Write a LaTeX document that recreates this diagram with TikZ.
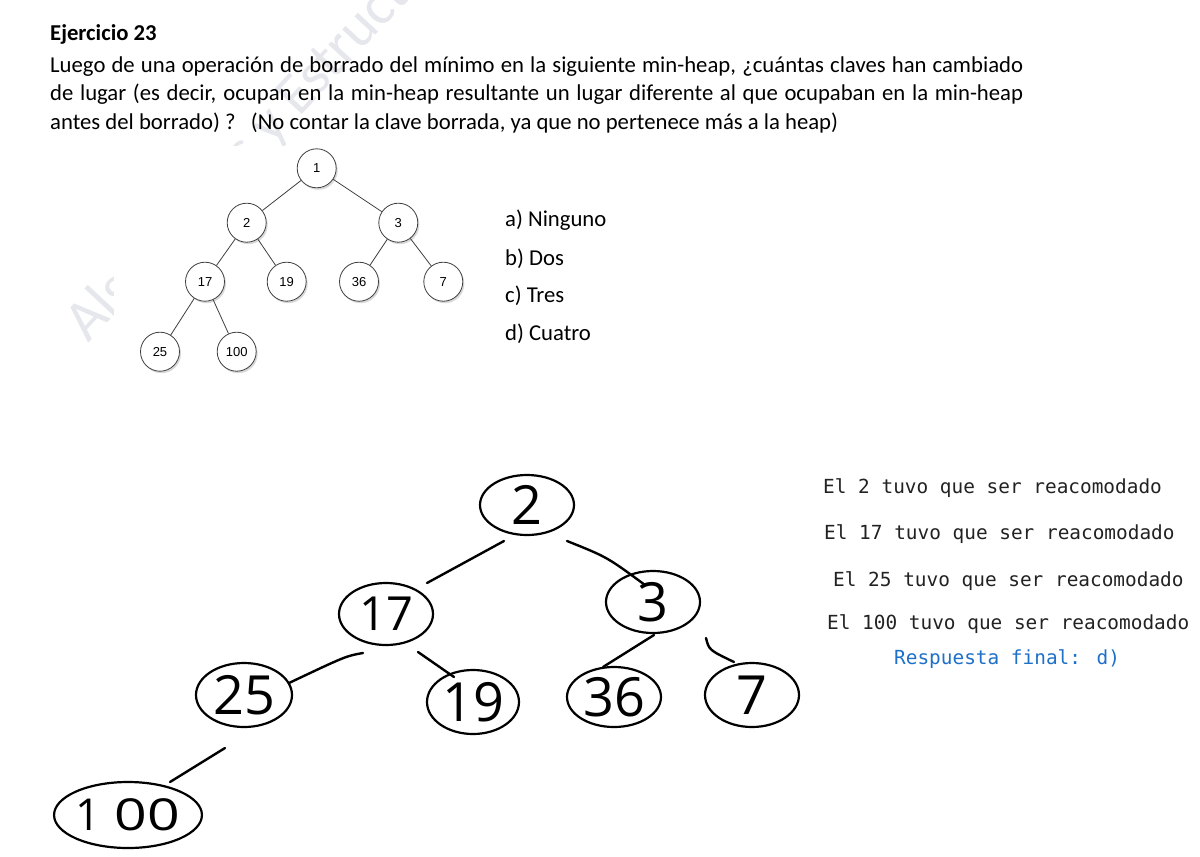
\documentclass[tikz,border=0pt]{standalone}
\usepackage{fontspec}
\setmainfont{Carlito}
\newfontfamily\monofont{DejaVu Sans Mono}
\newfontfamily\treefont{Liberation Sans}
\newfontfamily\handfont{Open Sans}
\usetikzlibrary{shapes.geometric,shadows}
\definecolor{wmgray}{RGB}{230,231,236}
\definecolor{ansblue}{RGB}{30,112,200}
\definecolor{monotext}{RGB}{34,34,34}
\begin{document}
\begin{tikzpicture}[x=1pt,y=-1pt,
  txt/.style={anchor=base west, inner sep=0pt, font=\fontsize{22.7}{27}\selectfont},
  mono/.style={anchor=base west, inner sep=0pt, text=monotext, font=\monofont\fontsize{19.4}{22}\selectfont},
  snode/.style={circle, draw=black!75, line width=0.8pt, fill=white, minimum size=39pt, inner sep=0pt,
    font=\treefont\fontsize{13}{13}\selectfont,
    drop shadow={shadow xshift=1.5pt, shadow yshift=-2pt, fill=black!30}},
  sedge/.style={draw=black!75, line width=0.8pt},
  hnode/.style={ellipse, draw=black, line width=2.2pt, inner sep=0pt, font=\handfont\fontsize{54}{54}\selectfont},
  hedge/.style={draw=black, line width=2.4pt, line cap=round},
]
\useasboundingbox[fill=white] (0,0) rectangle (1200,857);

% watermark (partly hidden by the tree picture)
\node[anchor=base west, inner sep=0pt, rotate=47, text=wmgray, font=\fontsize{58}{58}\selectfont] (wm) at (88,344) {Algoritmos y Estructuras de Datos};
\fill[white] (114,146) rectangle (470,385);

% question
\node[txt, font=\bfseries\fontsize{22.7}{27}\selectfont] (title) at (50,40.7) {Ejercicio 23};
\node[txt] (q1) at (50,72.7) {\makebox[973pt][s]{Luego de una operación de borrado del mínimo en la siguiente min-heap, ¿cuántas claves han cambiado}};
\node[txt] (q2) at (50,100.7) {\makebox[973pt][s]{de lugar (es decir, ocupan en la min-heap resultante un lugar diferente al que ocupaban en la min-heap}};
\node[txt] (q3) at (50,129.3) {antes del borrado) ?\ \ \ (No contar la clave borrada, ya que no pertenece más a la heap)};

% options
\node[txt] (oa) at (505,226.7) {a) Ninguno};
\node[txt] (ob) at (505,265) {b) Dos};
\node[txt] (oc) at (505,302.7) {c) Tres};
\node[txt] (od) at (505,340.7) {d) Cuatro};

% original min-heap
\node[snode] (s1) at (316.7,168.3) {1};
\node[snode] (s2) at (246.7,222.7) {2};
\node[snode] (s3) at (398.3,222.7) {3};
\node[snode] (s17) at (205,281.7) {17};
\node[snode] (s19) at (286.7,281.7) {19};
\node[snode] (s36) at (359,281.7) {36};
\node[snode] (s7) at (443.3,281.7) {7};
\node[snode] (s25) at (160,351.7) {25};
\node[snode] (s100) at (236.7,351.7) {100};
\draw[sedge] (s1) -- (s2);
\draw[sedge] (s1) -- (s3);
\draw[sedge] (s2) -- (s17);
\draw[sedge] (s2) -- (s19);
\draw[sedge] (s3) -- (s36);
\draw[sedge] (s3) -- (s7);
\draw[sedge] (s17) -- (s25);
\draw[sedge] (s17) -- (s100);

% handwritten resulting heap
\node[hnode, minimum width=94pt, minimum height=60pt] (h2) at (527,505) {2};
\node[hnode, minimum width=94pt, minimum height=62pt, font=\handfont\fontsize{47}{47}\selectfont] (h17) at (386,614) {17};
\node[hnode, minimum width=94pt, minimum height=62pt] (h3) at (653,602) {3};
\node[hnode, minimum width=96pt, minimum height=64pt] (h25) at (244,695) {25};
\node[hnode, minimum width=92pt, minimum height=64pt] (h19) at (473,702) {19};
\node[hnode, minimum width=94pt, minimum height=60pt] (h36) at (614,697) {36};
\node[hnode, minimum width=94pt, minimum height=64pt] (h7) at (752,695) {7};
\node[hnode, minimum width=144pt, minimum height=66pt, font=\handfont\fontsize{44}{44}\selectfont] (h100) at (128,815) {1\kern14pt\scalebox{1.3}[1]{00}};

\draw[hedge] ([shift={(-23,36)}]h2.center) -- ([shift={(41,-31)}]h17.center);
\draw[hedge] ([shift={(40,36)}]h2.center) .. controls ([shift={(80,52)}]h2.center) .. ([shift={(-8,-17)}]h3.center);
\draw[hedge] ([shift={(-23,39)}]h17.center) .. controls ([shift={(-40,42)}]h17.center) .. ([shift={(45,-12)}]h25.center);
\draw[hedge] ([shift={(32,38)}]h17.center) -- ([shift={(-19,-25)}]h19.center);
\draw[hedge] ([shift={(1,33)}]h3.center) -- ([shift={(-11,-30)}]h36.center);
\draw[hedge] ([shift={(53,36)}]h3.center) .. controls ([shift={(56,48)}]h3.center) .. ([shift={(-18,-33)}]h7.center);
\draw[hedge] ([shift={(-19,53)}]h25.center) -- ([shift={(42,-33)}]h100.center);

% notes
\node[mono] (m1) at (823,493) {El 2 tuvo que ser reacomodado};
\node[mono] (m2) at (824,539) {El 17 tuvo que ser reacomodado};
\node[mono] (m3) at (833,586) {El 25 tuvo que ser reacomodado};
\node[mono] (m4) at (827,629) {El 100 tuvo que ser reacomodado};
\node[mono, text=ansblue] (m5) at (894,664) {Respuesta final: d)};
\end{tikzpicture}
\end{document}
